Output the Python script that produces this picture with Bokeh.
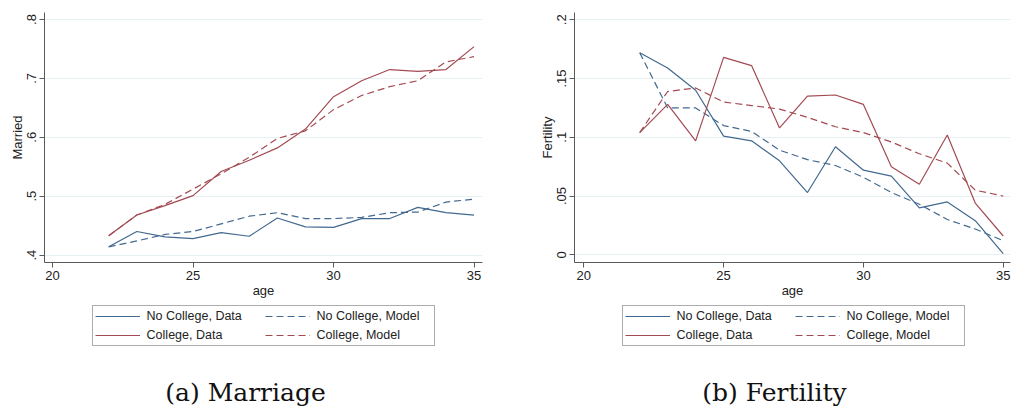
from bokeh.plotting import figure
from bokeh.models import FixedTicker, Legend, LegendItem, Label, Range1d
from bokeh.layouts import row, column
from bokeh.embed import file_html
from bokeh.resources import INLINE

age = [22, 23, 24, 25, 26, 27, 28, 29, 30, 31, 32, 33, 34, 35]

married_nocollege_data = [0.414, 0.440, 0.431, 0.428, 0.438, 0.432, 0.463, 0.448, 0.447, 0.462, 0.462, 0.481, 0.472, 0.468]
married_nocollege_model = [0.414, 0.424, 0.435, 0.440, 0.453, 0.466, 0.472, 0.462, 0.462, 0.464, 0.472, 0.473, 0.490, 0.495]
married_college_data = [0.433, 0.468, 0.484, 0.501, 0.542, 0.561, 0.582, 0.614, 0.669, 0.696, 0.715, 0.712, 0.715, 0.754]
married_college_model = [0.433, 0.468, 0.486, 0.512, 0.538, 0.566, 0.598, 0.611, 0.647, 0.671, 0.686, 0.696, 0.728, 0.737]

fert_nocollege_data = [0.172, 0.159, 0.140, 0.101, 0.097, 0.080, 0.053, 0.092, 0.072, 0.067, 0.040, 0.045, 0.029, 0.001]
fert_nocollege_model = [0.172, 0.125, 0.125, 0.110, 0.105, 0.089, 0.081, 0.076, 0.066, 0.053, 0.043, 0.030, 0.022, 0.012]
fert_college_data = [0.104, 0.128, 0.097, 0.168, 0.161, 0.108, 0.135, 0.136, 0.128, 0.075, 0.060, 0.102, 0.044, 0.016]
fert_college_model = [0.104, 0.139, 0.142, 0.130, 0.127, 0.124, 0.117, 0.109, 0.104, 0.096, 0.086, 0.078, 0.055, 0.050]

x_ticks = [20, 25, 30, 35]
married_ticks = [0.4, 0.5, 0.6, 0.7, 0.8]
married_tick_labels = [".4", ".5", ".6", ".7", ".8"]
fert_ticks = [0, 0.05, 0.1, 0.15, 0.2]
fert_tick_labels = ["0", ".05", ".1", ".15", ".2"]

legend_labels = ["No College, Data", "No College, Model", "College, Data", "College, Model"]
captions = ["(a) Marriage", "(b) Fertility"]

BLUE = "#42698f"
RED = "#a34b53"
AXIS = "#5a5a5a"
FONT = "Liberation Sans"
FRAME_H = 250
TOP_H = 12 + FRAME_H + 40
BOT_H = 407 - TOP_H
LW = 1.2
DASH = "7 4"
Y0 = 1000  # legend strip's own vertical range starts far above the data


def styles():
    return [dict(line_color=BLUE, line_width=LW),
            dict(line_color=BLUE, line_width=LW, line_dash=DASH),
            dict(line_color=RED, line_width=LW),
            dict(line_color=RED, line_width=LW, line_dash=DASH)]


def panel(ylabel, yticks, ylabels, yr, xr, series, bl, br, fw):
    p = figure(frame_width=fw, frame_height=FRAME_H,
               x_range=Range1d(*xr), y_range=Range1d(*yr),
               output_backend="svg", toolbar_location=None,
               min_border_left=bl, min_border_right=br,
               min_border_top=12, min_border_bottom=40)
    p.outline_line_color = None
    p.background_fill_color = "white"
    p.xgrid.visible = False
    p.ygrid.grid_line_color = "#e6eff1"
    p.ygrid.grid_line_width = 1.2
    p.ygrid.ticker = FixedTicker(ticks=yticks)

    p.xaxis.ticker = FixedTicker(ticks=x_ticks)
    p.yaxis.ticker = FixedTicker(ticks=yticks)
    p.yaxis.major_label_overrides = {t: l for t, l in zip(yticks, ylabels)}
    p.yaxis.major_label_orientation = "vertical"
    for ax in (p.xaxis[0], p.yaxis[0]):
        ax.axis_line_color = AXIS
        ax.major_tick_line_color = AXIS
        ax.major_tick_out = 5
        ax.major_tick_in = 0
        ax.minor_tick_line_color = None
        ax.major_label_text_font = FONT
        ax.major_label_text_font_size = "13px"
        ax.major_label_text_color = "#222222"
        ax.axis_label_text_font = FONT
        ax.axis_label_text_font_size = "13px"
        ax.axis_label_text_font_style = "normal"
        ax.axis_label_text_color = "#222222"
        ax.major_label_standoff = 3
        ax.axis_label_standoff = 0
    p.xaxis.axis_label = "age"
    p.yaxis.axis_label = ylabel

    for vals, st in zip(series, styles()):
        p.line(age, vals, **st)
    return p


def legend_box(caption, xr, series, bl, br, fw):
    q = figure(frame_width=fw, frame_height=BOT_H,
               x_range=Range1d(*xr), y_range=Range1d(Y0, Y0 + BOT_H),
               x_axis_type=None, y_axis_type=None,
               output_backend="svg", toolbar_location=None,
               min_border_left=bl, min_border_right=br, min_border_top=0,
               min_border_bottom=0)
    q.outline_line_color = None
    q.grid.visible = False
    # same series (outside this strip's visible range) to feed the legend glyphs
    rs = [q.line(age, vals, **st) for vals, st in zip(series, styles())]
    items = [LegendItem(label=legend_labels[0], renderers=[rs[0]]),
             LegendItem(label=legend_labels[2], renderers=[rs[2]]),
             LegendItem(label=legend_labels[1], renderers=[rs[1]]),
             LegendItem(label=legend_labels[3], renderers=[rs[3]])]
    leg = Legend(items=items, location=(47.6, BOT_H - 44), orientation="vertical",
                 ncols=2, glyph_width=45, glyph_height=16, label_height=16,
                 label_width=115, label_standoff=7, spacing=3, padding=2, margin=0,
                 border_line_color=AXIS, border_line_width=1,
                 label_text_font=FONT, label_text_font_size="12.5px",
                 label_text_color="#222222", background_fill_alpha=1)
    q.add_layout(leg, "center")
    cap_x = xr[0] + (fw / 2 - 18) * (xr[1] - xr[0]) / fw
    q.add_layout(Label(x=cap_x, y=Y0 + 15, text=caption, text_align="center",
                       text_baseline="middle", text_font="DejaVu Serif",
                       text_font_size="25px", text_color="#111111"))
    return q


m_series = (married_nocollege_data, married_nocollege_model, married_college_data, married_college_model)
f_series = (fert_nocollege_data, fert_nocollege_model, fert_college_data, fert_college_model)
m_xr = (19.715, 35.30)
f_xr = (19.668, 35.26)

p1 = panel("Married", married_ticks, married_tick_labels, (0.3874, 0.8119), m_xr,
           m_series, 44, 50, 438)
p2 = panel("Fertility", fert_ticks, fert_tick_labels, (-0.00655, 0.2062), f_xr,
           f_series, 42, 1, 436)
l1 = legend_box(captions[0], m_xr, m_series, 44, 50, 438)
l2 = legend_box(captions[1], f_xr, f_series, 42, 1, 436)

layout = row(column(p1, l1), column(p2, l2))
open("out.html", "w").write(file_html(layout, INLINE))
